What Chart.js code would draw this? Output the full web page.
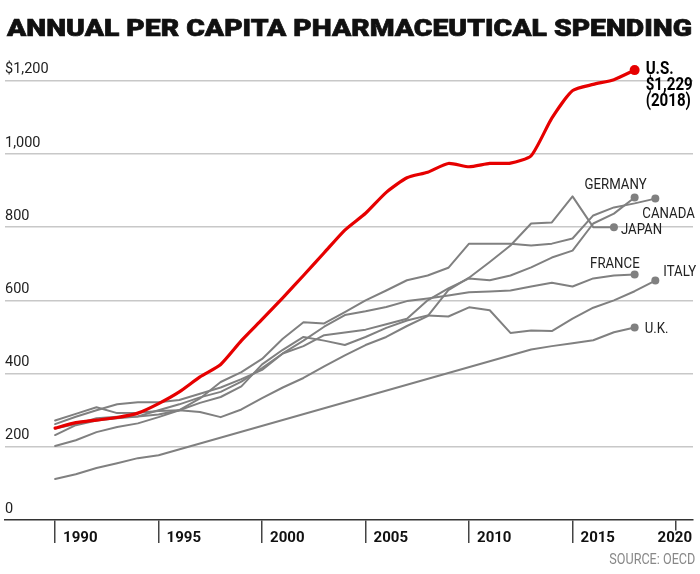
<!DOCTYPE html>
<html>
<head>
<meta charset="utf-8">
<script src="https://cdn.jsdelivr.net/npm/chart.js@4.4.1/dist/chart.umd.min.js"></script>
<style>
  html, body { margin: 0; padding: 0; background: #fff; }
  #wrap { position: relative; width: 700px; height: 574px; overflow: hidden; }
  #chart { position: absolute; left: 0; top: 0; }
  #title {
    position: absolute; left: 7px; top: 16px;
    font: 900 24.6px Roboto, "Liberation Sans", sans-serif;
    line-height: 1; white-space: nowrap; color: #111;
    -webkit-text-stroke: 0.7px #111;
    transform-origin: 0 0;
  }
  #source {
    position: absolute; right: 5px; top: 552px;
    font: 15px Roboto, "Liberation Sans", sans-serif;
    line-height: 1; white-space: nowrap; color: #888;
    transform-origin: 100% 0;
  }
</style>
</head>
<body>
<div id="wrap">
  <canvas id="chart" width="700" height="574"></canvas>
  <div id="title">ANNUAL PER CAPITA PHARMACEUTICAL SPENDING</div>
  <div id="source">SOURCE: OECD</div>
</div>
<script>
// years on the x axis
const years = [1990, 1991, 1992, 1993, 1994, 1995, 1996, 1997, 1998, 1999,
               2000, 2001, 2002, 2003, 2004, 2005, 2006, 2007, 2008, 2009,
               2010, 2011, 2012, 2013, 2014, 2015, 2016, 2017, 2018, 2019];

// per capita spending, US$
const usSpend      = [251, 266, 273, 280, 292, 318, 350, 391, 425, 490, 548, 607, 668, 730, 792, 838, 895, 935, 950, 974, 965, 974, 975, 995, 1098, 1173, 1190, 1203, 1229, null];
const germanySpend = [262, 282, 300, 316, 322, 322, 328, 345, 362, 385, 410, 455, 475, 505, 512, 520, 535, 550, 600, 633, 660, 655, 668, 690, 717, 736, 810, 837, 881, null];
const canadaSpend  = [202, 218, 240, 254, 264, 281, 300, 332, 377, 404, 440, 495, 540, 537, 568, 600, 627, 655, 668, 689, 755, 755, 755, 750, 755, 769, 832, 854, 865, 878];
const japanSpend   = [272, 290, 308, 292, 293, 298, 300, 295, 281, 302, 333, 362, 388, 420, 450, 478, 500, 530, 557, 628, 662, 705, 750, 810, 813, 884, 800, 800, null, null];
const franceSpend  = [232, 259, 272, 278, 283, 300, 316, 335, 350, 378, 415, 455, 490, 528, 560, 570, 582, 598, 605, 613, 622, 624, 627, 638, 648, 638, 660, 668, 671, null];
const italySpend   = [250, 262, 278, 282, 283, 288, 300, 320, 336, 365, 425, 465, 500, 490, 478, 500, 525, 545, 559, 556, 581, 573, 511, 518, 516, 550, 580, 600, 625, 654];
const ukSpend      = [112, 125, 142, 155, 169, 177, null, null, null, null, null, null, null, null, null, null, null, null, null, null, null, null, null, 466, 475, 483, 491, 513, 526, null];

// axis ticks
const xTicks = [1990, 1995, 2000, 2005, 2010, 2015, 2020];
const xTickLabels = ['1990', '1995', '2000', '2005', '2010', '2015', '2020'];
const yTicks = [0, 200, 400, 600, 800, 1000, 1200];
const yTickLabels = ['0', '200', '400', '600', '800', '1,000', '$1,200'];

const RED = '#e60000';
const GRAY = '#808080';

function toPoints(vals) {
  return years.map((yr, i) => ({ x: yr, y: vals[i] }));
}

function lastIndex(vals) {
  for (let i = vals.length - 1; i >= 0; i--) if (vals[i] !== null) return i;
  return -1;
}

function series(name, vals, color, width, dot) {
  const end = lastIndex(vals);
  return {
    label: name,
    data: toPoints(vals),
    borderColor: color,
    backgroundColor: color,
    borderWidth: width,
    borderJoinStyle: 'round',
    borderCapStyle: 'round',
    tension: name === 'U.S.' ? 0.2 : 0,
    spanGaps: true,
    clip: false,
    pointRadius: c => (c.dataIndex === end ? dot : 0),
    pointBorderWidth: 0,
    pointHoverRadius: 0
  };
}

// label text and where it sits next to each line's end dot
const endLabels = {
  'U.S.':    { lines: ['U.S.', '$1,229', '(2018)'], dx: 11, dy: 4, align: 'left', font: 'bold 18px Roboto', sx: 0.84, color: '#000', lh: 16 },
  'GERMANY': { lines: ['GERMANY'], dx: 12, dy: -9, align: 'right', font: '15px Roboto', sx: 0.88, color: '#222' },
  'CANADA':  { lines: ['CANADA'], dx: -13, dy: 19, align: 'left', font: '15px Roboto', sx: 0.88, color: '#222' },
  'JAPAN':   { lines: ['JAPAN'], dx: 7, dy: 7, align: 'left', font: '15px Roboto', sx: 0.88, color: '#222' },
  'FRANCE':  { lines: ['FRANCE'], dx: 5, dy: -6, align: 'right', font: '15px Roboto', sx: 0.88, color: '#222' },
  'ITALY':   { lines: ['ITALY'], dx: 8, dy: -5, align: 'left', font: '15px Roboto', sx: 0.88, color: '#222' },
  'U.K.':    { lines: ['U.K.'], dx: 10, dy: 6, align: 'left', font: '15px Roboto', sx: 0.88, color: '#222' }
};

function drawText(ctx, text, x, y, align, font, sx, color, baseline) {
  ctx.save();
  ctx.font = font;
  ctx.fillStyle = color;
  ctx.textAlign = align;
  ctx.textBaseline = baseline || 'alphabetic';
  ctx.translate(x, y);
  ctx.scale(sx, 1);
  ctx.fillText(text, 0, 0);
  ctx.restore();
}

const endLabelPlugin = {
  id: 'endLabels',
  afterDatasetsDraw(chart) {
    const ctx = chart.ctx;
    chart.data.datasets.forEach((ds, i) => {
      const lab = endLabels[ds.label];
      if (!lab) return;
      const vals = ds.data.map(p => p.y);
      const pt = chart.getDatasetMeta(i).data[lastIndex(vals)];
      lab.lines.forEach((t, k) => {
        drawText(ctx, t, pt.x + lab.dx, pt.y + lab.dy + k * (lab.lh || 0), lab.align, lab.font, lab.sx, lab.color);
      });
    });
    // last year label sits to the left of its tick
    const sx = chart.scales.x;
    drawText(ctx, xTickLabels[xTickLabels.length - 1], sx.getPixelForValue(xTicks[xTicks.length - 1]) + 16,
             sx.top + 23 - 14 + 9, 'right', 'bold 15px Roboto', 1, '#111', 'middle');
  }
};

const chart = new Chart(document.getElementById('chart'), {
  type: 'line',
  data: {
    datasets: [
      series('U.S.', usSpend, RED, 3.2, 5),
      series('GERMANY', germanySpend, GRAY, 2, 4),
      series('CANADA', canadaSpend, GRAY, 2, 4),
      series('JAPAN', japanSpend, GRAY, 2, 4),
      series('FRANCE', franceSpend, GRAY, 2, 4),
      series('ITALY', italySpend, GRAY, 2, 4),
      series('U.K.', ukSpend, GRAY, 2, 4)
    ]
  },
  options: {
    responsive: false,
    animation: false,
    events: [],
    layout: { padding: { top: 65, left: 5, right: 7, bottom: 0 } },
    plugins: { legend: { display: false }, tooltip: { enabled: false } },
    scales: {
      x: {
        type: 'linear',
        min: 1987.58,
        max: 2020.82,
        afterFit: s => { s.height = 54; },
        afterBuildTicks: s => { s.ticks = xTicks.map(v => ({ value: v })); },
        border: { display: true, color: '#333', width: 1.5 },
        grid: {
          drawOnChartArea: false,
          drawTicks: true,
          tickLength: 23,
          color: '#444',
          lineWidth: 1.5,
          tickColor: '#444',
          tickWidth: 1.5,
          tickBorderDash: c => (c.tick && c.tick.value === 2020 ? [10, 60] : [])
        },
        ticks: {
          align: 'start',
          labelOffset: 8,
          padding: -14,
          maxRotation: 0,
          autoSkip: false,
          color: '#111',
          font: { family: 'Roboto', size: 15, weight: 'bold' },
          callback: (v, i) => (i === xTickLabels.length - 1 ? '' : xTickLabels[i])
        }
      },
      y: {
        type: 'linear',
        position: 'left',
        min: 0,
        max: 1243,
        afterFit: s => { s.width = 0; },
        afterBuildTicks: s => { s.ticks = yTicks.map(v => ({ value: v })); },
        border: { display: false },
        grid: {
          drawTicks: false,
          lineWidth: 1.5,
          color: c => (c.tick && c.tick.value === 0 ? 'rgba(0,0,0,0)' : '#c8c8c8')
        },
        ticks: {
          mirror: true,
          padding: 0,
          labelOffset: -11,
          color: '#222',
          font: { family: 'Roboto', size: 14.5 },
          callback: (v, i) => yTickLabels[i]
        }
      }
    }
  },
  plugins: [endLabelPlugin]
});

// squeeze the title and source line to their printed widths
function fitWidth(id, w) {
  const el = document.getElementById(id);
  const cur = el.getBoundingClientRect().width;
  if (cur > 0) el.style.transform = 'scaleX(' + (w / cur) + ')';
}
fitWidth('title', 685);
fitWidth('source', 86);
</script>
</body>
</html>
